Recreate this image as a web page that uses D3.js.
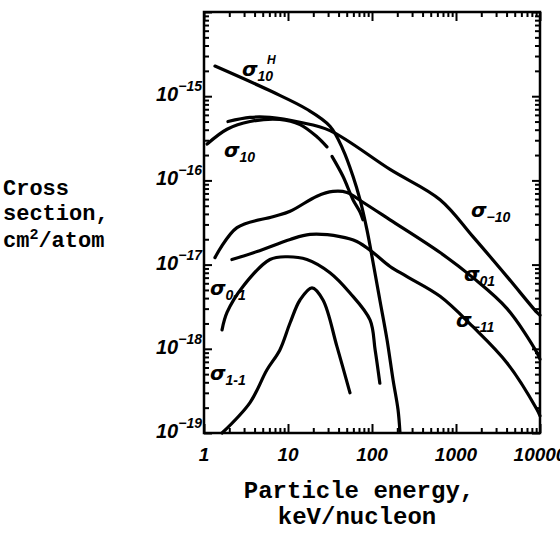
<!DOCTYPE html>
<html><head><meta charset="utf-8">
<script src="https://cdn.jsdelivr.net/npm/d3@7"></script>
<style>
html,body{margin:0;padding:0;background:#fff;}
svg{display:block;}
</style></head>
<body>
<svg id="chart" width="560" height="535"></svg>
<script>
// ---- data (energy in keV/nucleon, cross section in cm^2/atom) ----
const xTickValues = [1, 10, 100, 1000, 10000];
const xTickLabels = ["1", "10", "100", "1000", "10000"];
const yTickExponents = [-19, -18, -17, -16, -15];

const sigma10H = [[1.35,2.28e-15],[6.6,1.12e-15],[16.8,7.0e-16],[31.6,4.4e-16],[45,2.34e-16],[59.4,1.12e-16],[72,5.9e-17],[87,2.6e-17],[103,1.06e-17],[124,3.8e-18],[151,1.28e-18],[178,4.3e-19],[204,1.9e-19],[215,1.03e-19]];
const sigma10 = [[1.09,2.7e-16],[1.88,4.05e-16],[3.53,5.0e-16],[8.0,5.3e-16],[13.9,4.6e-16],[22.1,3.3e-16],[29.1,2.5e-16]];
const sigma10Tail = [[33.4,1.93e-16],[45.1,1.12e-16],[59.4,5.9e-17],[72,4.2e-17],[78,3.4e-17]];
const sigmaM10 = [[1.93,5.0e-16],[3.53,5.6e-16],[6.1,5.6e-16],[13.9,4.9e-16],[31.6,3.9e-16],[164,1.35e-16],[646,5.9e-17],[1590,2.15e-17],[4050,7.2e-18],[9200,2.7e-18],[10000,2.5e-18]];
const sigma01 = [[1.35,1.21e-17],[2.47,2.75e-17],[6.6,3.7e-17],[10.6,4.3e-17],[22.1,6.5e-17],[34.3,7.4e-17],[50.4,7.2e-17],[78,5.5e-17],[164,3.4e-17],[646,1.39e-17],[1590,7.0e-18],[4050,3.0e-18],[9200,9.0e-19],[10000,7.5e-19]];
const sigmaM11 = [[2.15,1.15e-17],[4.28,1.43e-17],[10.6,1.99e-17],[18.3,2.28e-17],[41.6,2.15e-17],[66,1.88e-17],[103,1.39e-17],[164,9.5e-18],[261,7.2e-18],[646,4.2e-18],[1590,1.83e-18],[4050,6.8e-19],[9200,1.9e-19],[10000,1.6e-19]];
const sigma0M1 = [[1.64,1.68e-18],[1.88,2.7e-18],[2.91,5.5e-18],[6.1,1.15e-17],[9.7,1.24e-17],[16.8,1.15e-17],[31.6,8.0e-18],[54.7,4.6e-18],[94.7,2.2e-18],[109,9.7e-19],[124,3.9e-19]];
const sigma1M1 = [[1.64,1.0e-19],[3.53,2.3e-19],[5.6,5.6e-19],[8.0,9.7e-19],[10.6,2.04e-18],[13.9,3.8e-18],[19.3,5.3e-18],[26.1,3.8e-18],[38.3,1.06e-18],[54.7,3.0e-19]];

// ---- layout ----
const svg = d3.select("#chart");
const L = 204, R = 540, T = 12, B = 433;
const x = d3.scaleLog().domain([1, 10000]).range([L, R]);
const y = d3.scaleLog().domain([1e-19, 1e-14]).range([B, T]);

const tickFont = "'Liberation Sans Narrow','Liberation Sans',Arial,sans-serif";
const monoFont = "'Liberation Mono','Courier New',monospace";

const xMinor = [], yMinor = [];
for (let e = 0; e < 4; e++) for (let k = 2; k <= 9; k++) xMinor.push(k * Math.pow(10, e));
for (let e = -19; e < -14; e++) for (let k = 2; k <= 9; k++) yMinor.push(k * Math.pow(10, e));
const yMajor = [1e-19, 1e-18, 1e-17, 1e-16, 1e-15, 1e-14];

const g = svg.append("g");
function inward(axisGen, transform) {
  const a = g.append("g").attr("transform", transform).call(axisGen);
  a.select(".domain").remove();
  a.selectAll("line").attr("stroke", "#000").attr("stroke-width", 2);
  a.selectAll("text").remove();
  return a;
}
inward(d3.axisBottom(x).tickValues(xTickValues).tickSize(-9), `translate(0,${B})`);
inward(d3.axisBottom(x).tickValues(xMinor).tickSize(-5), `translate(0,${B})`);
inward(d3.axisTop(x).tickValues(xTickValues).tickSize(-9), `translate(0,${T})`);
inward(d3.axisTop(x).tickValues(xMinor).tickSize(-5), `translate(0,${T})`);
inward(d3.axisLeft(y).tickValues(yMajor).tickSize(-8), `translate(${L},0)`);
inward(d3.axisLeft(y).tickValues(yMinor).tickSize(-5), `translate(${L},0)`);
inward(d3.axisRight(y).tickValues(yMajor).tickSize(-8), `translate(${R},0)`);
inward(d3.axisRight(y).tickValues(yMinor).tickSize(-5), `translate(${R},0)`);

g.append("rect").attr("x", L).attr("y", T).attr("width", R - L).attr("height", B - T)
  .attr("fill", "none").attr("stroke", "#000").attr("stroke-width", 2.5);

// x tick labels
g.selectAll(".xl").data(xTickValues).join("text")
  .attr("x", d => x(d)).attr("y", B + 28)
  .attr("text-anchor", "middle")
  .attr("font-family", tickFont).attr("font-style", "italic").attr("font-weight", "bold")
  .attr("font-size", 19)
  .text((d, i) => xTickLabels[i]);

// y tick labels 10^-n
yTickExponents.forEach(e => {
  const t = g.append("text").attr("x", L - 2).attr("y", y(Math.pow(10, e)) + 5)
    .attr("text-anchor", "end")
    .attr("font-family", tickFont).attr("font-style", "italic").attr("font-weight", "bold")
    .attr("font-size", 20);
  t.append("tspan").text("10");
  t.append("tspan").attr("dy", -10).attr("font-size", 14).text("\u2212" + Math.abs(e));
});

// curves
const line = d3.line().x(d => x(d[0])).y(d => y(d[1])).curve(d3.curveCatmullRom.alpha(0.5));
[sigma10H, sigma10, sigma10Tail, sigmaM10, sigma01, sigmaM11, sigma0M1, sigma1M1].forEach(s => {
  g.append("path").attr("d", line(s)).attr("fill", "none").attr("stroke", "#000")
    .attr("stroke-width", 3.2).attr("stroke-linecap", "round").attr("stroke-linejoin", "round");
});

// curve labels
const curveLabels = [
  {x: 242, y: 76, sub: "10", sup: "H"},
  {x: 224, y: 157, sub: "10"},
  {x: 471, y: 217, sub: "\u221210"},
  {x: 464, y: 281, sub: "01"},
  {x: 456, y: 327, sub: "\u221211"},
  {x: 210, y: 295, sub: "0-1"},
  {x: 210, y: 380, sub: "1-1"}
];
curveLabels.forEach(c => {
  const t = g.append("text").attr("x", c.x).attr("y", c.y)
    .attr("font-family", "'DejaVu Sans',sans-serif").attr("font-style", "italic").attr("font-weight", "bold")
    .attr("font-size", 20);
  t.append("tspan").text("\u03c3");
  t.append("tspan").attr("dy", 5).attr("font-size", 14).attr("font-family", tickFont).text(c.sub);
  if (c.sup) {
    g.append("text").attr("x", c.x + 25).attr("y", c.y - 12)
      .attr("font-family", tickFont).attr("font-style", "italic").attr("font-weight", "bold")
      .attr("font-size", 12).text(c.sup);
  }
});

// axis titles
const tf = (sel) => sel.attr("font-family", monoFont).attr("font-weight", "bold").attr("font-size", 22);
tf(svg.append("text").attr("x", 3).attr("y", 195)).text("Cross");
tf(svg.append("text").attr("x", 3).attr("y", 220)).text("section,");
const cm = tf(svg.append("text").attr("x", 3).attr("y", 247));
cm.append("tspan").text("cm");
cm.append("tspan").attr("dy", -8).attr("font-size", 15).text("2");
cm.append("tspan").attr("dy", 8).text("/atom");

tf(svg.append("text").attr("x", 359).attr("y", 498).attr("text-anchor", "middle")).attr("font-size", 24).text("Particle energy,");
tf(svg.append("text").attr("x", 357).attr("y", 524).attr("text-anchor", "middle")).attr("font-size", 24).text("keV/nucleon");
</script>
</body></html>
